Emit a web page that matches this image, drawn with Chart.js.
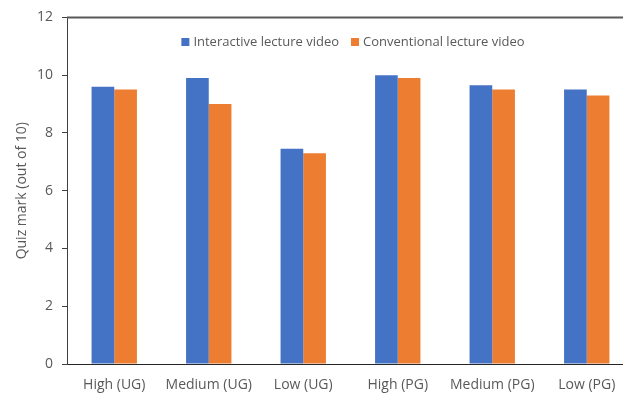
<!DOCTYPE html>
<html>
<head>
<meta charset="utf-8">
<script src="https://cdn.jsdelivr.net/npm/chart.js@4"></script>
<style>
  html, body { margin: 0; padding: 0; background: #fff; overflow: hidden; }
  #wrap { width: 640px; height: 394px; }
</style>
</head>
<body>
<div id="wrap"><canvas id="quizChart"></canvas></div>
<script>
// Data
const categories = ['High (UG)', 'Medium (UG)', 'Low (UG)', 'High (PG)', 'Medium (PG)', 'Low (PG)'];
const interactiveMarks = [9.6, 9.9, 7.45, 10.0, 9.65, 9.5];
const conventionalMarks = [9.5, 9.0, 7.3, 9.9, 9.5, 9.3];
const yTicks = [0, 2, 4, 6, 8, 10, 12];

const FONT = "'Open Sans', sans-serif";
const TEXT = '#595959';

// legend drawn inside the plot area, like the original
const innerLegend = {
  id: 'innerLegend',
  afterDraw(chart) {
    const ctx = chart.ctx;
    const area = chart.chartArea;
    ctx.save();
    ctx.font = '13px ' + FONT;
    ctx.textBaseline = 'middle';
    const box = 8, gap = 4, spacing = 12;
    const items = chart.data.datasets.map(ds => ({ text: ds.label, color: ds.backgroundColor, w: ctx.measureText(ds.label).width }));
    let total = items.reduce((s, it) => s + box + gap + it.w, 0) + spacing * (items.length - 1);
    let x = 353 - total / 2;
    const y = 42;
    items.forEach(it => {
      ctx.fillStyle = it.color;
      ctx.fillRect(x, y - box / 2, box, box);
      x += box + gap;
      ctx.fillStyle = TEXT;
      ctx.fillText(it.text, x, y);
      x += it.w + spacing;
    });
    // top border of plot area
    ctx.strokeStyle = '#595959';
    ctx.lineWidth = 2;
    ctx.beginPath();
    ctx.moveTo(area.left, area.top);
    ctx.lineTo(chart.width, area.top);
    ctx.stroke();
    ctx.restore();
  }
};

const ctx = document.getElementById('quizChart').getContext('2d');
const quizChart = new Chart(ctx, {
  type: 'bar',
  data: {
    labels: categories,
    datasets: [
      { label: 'Interactive lecture video', data: interactiveMarks, backgroundColor: '#4472C4' },
      { label: 'Conventional lecture video', data: conventionalMarks, backgroundColor: '#ED7D31' }
    ]
  },
  options: {
    responsive: true,
    maintainAspectRatio: false,
    animation: false,
    layout: { padding: { top: 13, right: 6, left: 0, bottom: 0 } },
    datasets: { bar: { categoryPercentage: 0.48, barPercentage: 1.0 } },
    plugins: { legend: { display: false }, tooltip: { enabled: false } },
    scales: {
      x: {
        grid: { display: false },
        border: { color: '#262626', width: 1 },
        ticks: { color: TEXT, font: { family: FONT, size: 14 }, padding: 5, maxRotation: 0 },
        afterFit(scale) { scale.height = 30; }
      },
      y: {
        min: 0,
        max: 12,
        afterBuildTicks(scale) { scale.ticks = yTicks.map(v => ({ value: v })); },
        grid: { drawOnChartArea: false, drawTicks: true, tickLength: 5, color: '#404040' },
        border: { color: '#404040', width: 1 },
        ticks: { color: TEXT, font: { family: FONT, size: 14 }, padding: 9 },
        title: { display: true, text: 'Quiz mark (out of 10)', color: TEXT, font: { family: FONT, size: 14 }, padding: { top: 14, bottom: 0 } },
        afterFit(scale) { scale.width = 67; }
      }
    }
  },
  plugins: [innerLegend]
});
</script>
</body>
</html>
